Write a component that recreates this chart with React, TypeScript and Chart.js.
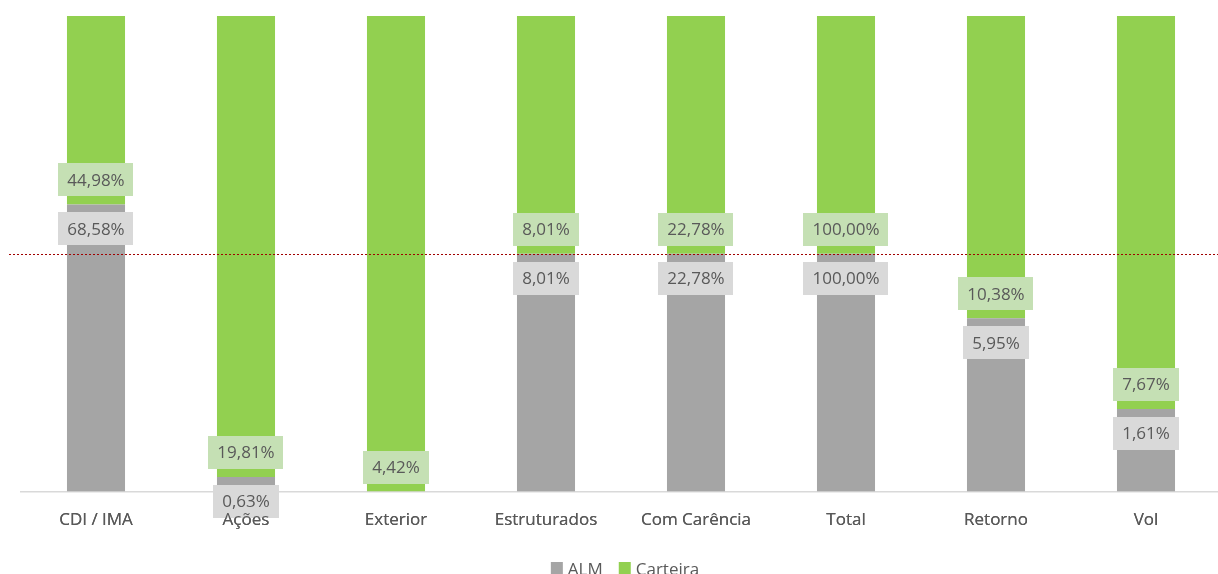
import React, { useEffect, useRef } from "react";
import { Chart, registerables } from "chart.js";

Chart.register(...registerables);

const categories = ["CDI / IMA", "Ações", "Exterior", "Estruturados", "Com Carência", "Total", "Retorno", "Vol"];
const almValues = [68.58, 0.63, 0, 8.01, 22.78, 100, 5.95, 1.61];
const carteiraValues = [44.98, 19.81, 4.42, 8.01, 22.78, 100, 10.38, 7.67];
const seriesNames = ["ALM", "Carteira"];
const referenceLevel = 50;

const GRAY = "#A5A5A5";
const GREEN = "#92D050";
const GRAY_BG = "#D9D9D9";
const GREEN_BG = "#C5E0B4";
const TEXT = "#595959";
const FONT = "'Open Sans', 'Noto Sans', sans-serif";

const fmt = (v: number) => v.toFixed(2).replace(".", ",") + "%";

const almShare = almValues.map((a, i) => (a / (a + carteiraValues[i])) * 100);
const carteiraShare = carteiraValues.map((c, i) => (c / (almValues[i] + c)) * 100);

const labelPlugin = {
  id: "customLabels",
  afterDatasetsDraw(chart: any) {
    const ctx = chart.ctx;
    const yScale = chart.scales.y;
    const xScale = chart.scales.x;
    const yRef = Math.round(yScale.getPixelForValue(referenceLevel)) + 0.5;
    ctx.save();
    ctx.strokeStyle = "#A00000";
    ctx.lineWidth = 1;
    ctx.setLineDash([2, 2]);
    ctx.beginPath();
    ctx.moveTo(9, yRef);
    ctx.lineTo(1218, yRef);
    ctx.stroke();
    ctx.restore();

    const meta0 = chart.getDatasetMeta(0);
    ctx.save();
    ctx.font = `17px ${FONT}`;
    ctx.textAlign = "center";
    ctx.textBaseline = "middle";
    const boxH = 33;
    const drawBox = (x: number, cy: number, text: string, bg: string) => {
      const w = ctx.measureText(text).width + 18;
      ctx.fillStyle = bg;
      ctx.fillRect(Math.round(x - w / 2), Math.round(cy - boxH / 2), Math.round(w), boxH);
      ctx.fillStyle = TEXT;
      ctx.fillText(text, x, cy + 1);
    };
    categories.forEach((_, i) => {
      const bar = meta0.data[i];
      const x = bar.x;
      const top = bar.y;
      if (carteiraValues[i] > 0) drawBox(x, top - 8 - boxH / 2, fmt(carteiraValues[i]), GREEN_BG);
      if (almValues[i] > 0) drawBox(x, top + 8 + boxH / 2, fmt(almValues[i]), GRAY_BG);
    });
    ctx.restore();
    if (typeof xScale.drawLabels === "function") {
      xScale.drawLabels(chart.chartArea);
    }
  },
  afterDraw(chart: any) {
    const ctx = chart.ctx;
    ctx.save();
    ctx.font = `17px ${FONT}`;
    ctx.textBaseline = "alphabetic";
    ctx.textAlign = "left";
    const colors = [GRAY, GREEN];
    const box = 12;
    const gapText = 5;
    const gapItem = 16;
    const widths = seriesNames.map((n) => box + gapText + ctx.measureText(n).width);
    const total = widths.reduce((a, b) => a + b, 0) + gapItem * (seriesNames.length - 1);
    let x = 625 - total / 2;
    const baseline = 575;
    seriesNames.forEach((n, i) => {
      ctx.fillStyle = colors[i];
      ctx.fillRect(x, 562, box, box);
      ctx.fillStyle = TEXT;
      ctx.fillText(n, x + box + gapText, baseline);
      x += widths[i] + gapItem;
    });
    ctx.restore();
  },
};

export default function App() {
  const ref = useRef<HTMLCanvasElement>(null);
  useEffect(() => {
    if (!ref.current) return;
    const chart = new Chart(ref.current, {
      type: "bar",
      data: {
        labels: categories,
        datasets: [
          { label: seriesNames[0], data: almShare, backgroundColor: GRAY, borderWidth: 0 },
          { label: seriesNames[1], data: carteiraShare, backgroundColor: GREEN, borderWidth: 0 },
        ],
      },
      options: {
        responsive: false,
        animation: false,
        devicePixelRatio: 1,
        layout: { padding: { left: 21, right: 21, top: 16, bottom: 26 } },
        datasets: { bar: { categoryPercentage: 1, barPercentage: 0.387 } },
        plugins: { legend: { display: false }, tooltip: { enabled: false } },
        scales: {
          x: {
            stacked: true,
            grid: { display: false, drawTicks: false },
            border: { display: true, color: "#D9D9D9", width: 1.5 },
            ticks: {
              color: TEXT,
              font: { family: FONT, size: 17 },
              padding: 18,
              autoSkip: false,
              maxRotation: 0,
            },
          },
          y: { stacked: true, display: false, min: 0, max: 100 },
        },
      },
      plugins: [labelPlugin],
    });
    return () => chart.destroy();
  }, []);
  return (
    <div style={{ position: "fixed", left: 0, top: 0, width: 1218, height: 574, overflow: "hidden", background: "#fff" }}>
      <canvas ref={ref} width={1242} height={574} style={{ position: "absolute", left: 0, top: 0 }} />
    </div>
  );
}
